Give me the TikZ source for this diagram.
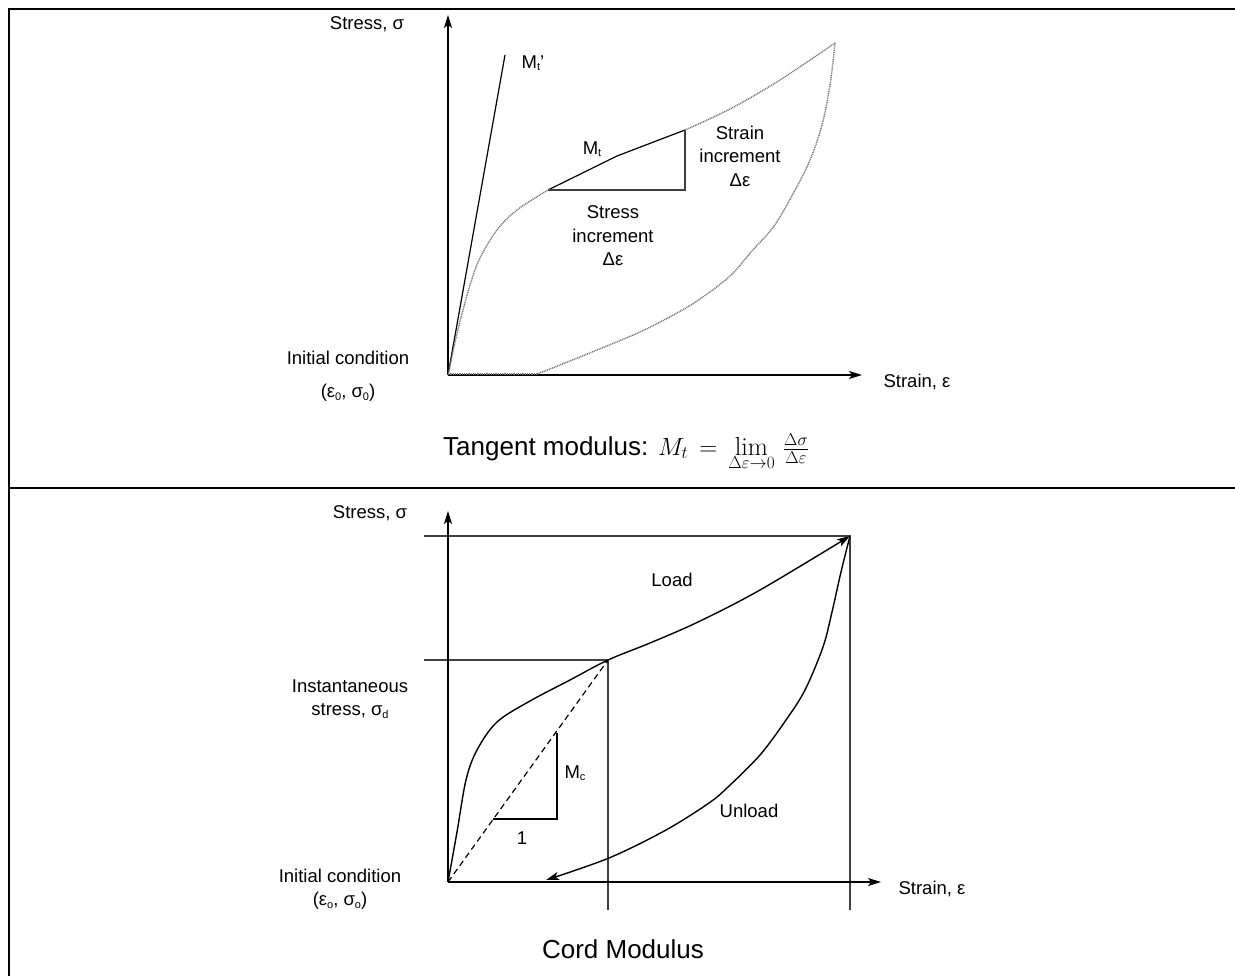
\documentclass[tikz,border=0pt]{standalone}
\usepackage{fontspec}
\setmainfont{Liberation Sans}
\newfontfamily\lmrfont{Latin Modern Roman}
\usetikzlibrary{arrows.meta}
\newcommand{\lowsub}[1]{\raisebox{-0.25ex}{\fontsize{11}{11}\selectfont #1}}
\newcommand{\mylim}{\mathop{\hbox{\lmrfont lim}}\limits}
\begin{document}
\begin{tikzpicture}[x=1pt,y=-1pt,
  lbl/.style={font=\fontsize{18.5}{23.5}\selectfont, inner sep=0pt, align=center},
  big/.style={font=\fontsize{26}{30}\selectfont, inner sep=0pt},
  axis/.style={line width=1.4pt, -{Stealth[length=13pt,width=8pt,inset=3pt]}},
  frame/.style={line width=2.2pt},
  thinline/.style={line width=1.2pt},
  guide/.style={line width=1.2pt, draw=black!75},
  dotline/.style={line width=1.4pt, draw=black!55, dash pattern=on 1pt off 0.8pt},
  curve/.style={line width=1.4pt},
  tip/.style={-{Stealth[length=13pt,width=8pt,inset=3pt]}}
]
\useasboundingbox (0,0) rectangle (1235,976);
% frame
\coordinate (fbl) at (9,976);
\coordinate (ftl) at (9,9);
\coordinate (ftr) at (1235,9);
\coordinate (fml) at (9,488);
\coordinate (fmr) at (1235,488);
\draw[frame] (fbl) -- (ftl) -- (ftr);
\draw[frame] (fml) -- (fmr);

% ---------------- top panel ----------------
\coordinate (O1) at (448,375);
\coordinate (Y1) at (448,15);
\coordinate (X1) at (862,375);
\draw[axis] (O1) -- (Y1);
\draw[axis] (O1) -- (X1);
\coordinate (Mtp) at (505,55);
\draw[thinline] (O1) -- (Mtp);
% loading (dotted)
\draw[dotline] plot[smooth, tension=0.6] coordinates {(448,375) (456,338) (463,310) (471,282) (480,258) (497,230) (517,210) (548,190)};
\coordinate (T1) at (548,190);
\coordinate (T2) at (617,156);
\coordinate (T3) at (685,130);
\coordinate (T4) at (685,190);
\draw[thinline] (T1) -- (T2) -- (T3);
\draw[guide] (T1) -- (T4) -- (T3);
\draw[dotline] plot[smooth, tension=0.6] coordinates {(685,130) (730,109) (780,80) (835,43)};
% unloading (dotted)
\draw[dotline] plot[smooth, tension=0.6] coordinates {(835,43) (830,85) (822,125) (810,160) (794,192) (774,226) (752,251) (730,276) (700,299) (677,313) (640,332) (597,350) (560,365) (537,374)};
\draw[dotline] (537,374) -- (448,374);

\node[lbl] (sy1) at (367,24) {Stress, σ};
\node[lbl] (mtp) at (533,63) {M\lowsub{t}’};
\node[lbl] (mt) at (592,149) {M\lowsub{t}};
\node[lbl] (sinc) at (740,156) {Strain\\increment\\Δε};
\node[lbl] (stinc) at (613,236) {Stress\\increment\\Δε};
\node[lbl] (ic1) at (348,358) {Initial condition};
\node[lbl] (ic1b) at (348,393) {(ε\lowsub{0}, σ\lowsub{0})};
\node[lbl] (sx1) at (917,382) {Strain, ε};
\node[big, anchor=base west] (tan) at (443,455) {Tangent modulus: $M_t\,=\,\mylim_{\Delta\varepsilon\to0}\,\frac{\Delta\sigma}{\Delta\varepsilon}$};

% ---------------- bottom panel ----------------
\coordinate (O2) at (448,882);
\coordinate (Y2) at (448,511);
\coordinate (X2) at (881,882);
\coordinate (P) at (608,660);
\coordinate (Q) at (850,536);
\coordinate (H1) at (424,536);
\coordinate (H2) at (424,660);
\coordinate (V1) at (608,910);
\coordinate (V2) at (850,910);
\draw[guide] (H1) -- (Q) -- (V2);
\draw[guide] (H2) -- (P) -- (V1);
\draw[axis] (O2) -- (Y2);
\draw[axis] (O2) -- (X2);
% load
\draw[curve, tip] plot[smooth, tension=0.55] coordinates {(448,882) (457,832) (466,780) (477,750) (497,722) (530,701) (570,680) (608,660) (650,643) (698,622) (760,590) (850,536)};
% unload
\draw[curve, tip] plot[smooth, tension=0.55] coordinates {(850,536) (841,572) (832,612) (823,647) (805,690) (786,720) (760,755) (728,787) (709,803) (666,830) (609,858) (546,880)};
% cord
\draw[thinline, dash pattern=on 6pt off 4pt] (O2) -- (P);
\coordinate (C1) at (557,733);
\coordinate (C2) at (557,819);
\coordinate (C3) at (493,819);
\draw[thinline] (C1) -- (C2) -- (C3);

\node[lbl] (sy2) at (370,513) {Stress, σ};
\node[lbl] (load) at (672,580) {Load};
\node[lbl] (inst) at (350,699) {Instantaneous\\stress, σ\lowsub{d}};
\node[lbl] (mc) at (575,773) {M\lowsub{c}};
\node[lbl] (one) at (522,838) {1};
\node[lbl] (unl) at (749,811) {Unload};
\node[lbl] (ic2) at (340,876) {Initial condition};
\node[lbl] (ic2b) at (340,901) {(ε\lowsub{o}, σ\lowsub{o})};
\node[lbl] (sx2) at (932,889) {Strain, ε};
\node[big] (cord) at (623,949) {Cord Modulus};
\end{tikzpicture}
\end{document}
